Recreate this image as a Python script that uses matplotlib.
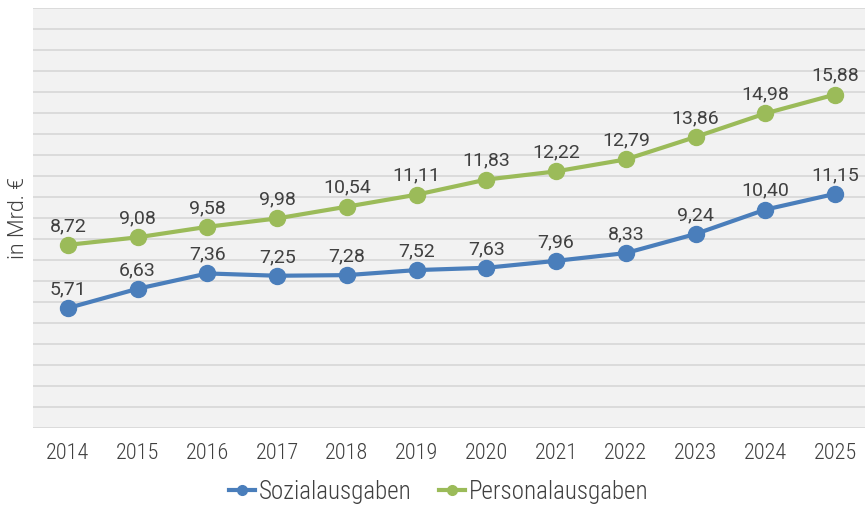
import matplotlib
matplotlib.use("Agg")
import matplotlib.pyplot as plt
from matplotlib import font_manager as fm
from matplotlib.lines import Line2D

years = ["2014", "2015", "2016", "2017", "2018", "2019", "2020", "2021", "2022", "2023", "2024", "2025"]
sozial = [5.71, 6.63, 7.36, 7.25, 7.28, 7.52, 7.63, 7.96, 8.33, 9.24, 10.40, 11.15]
personal = [8.72, 9.08, 9.58, 9.98, 10.54, 11.11, 11.83, 12.22, 12.79, 13.86, 14.98, 15.88]
series_names = ["Sozialausgaben", "Personalausgaben"]
y_label = "in Mrd. €"

fonts = fm.fontManager.ttflist

def stretch_val(f):
    s = f.stretch
    if isinstance(s, str):
        return {"ultra-condensed": 100, "extra-condensed": 200, "condensed": 300,
                "semi-condensed": 400, "normal": 500}.get(s, 500)
    return s

def weight_val(f):
    w = f.weight
    if isinstance(w, str):
        return {"light": 300, "normal": 400, "regular": 400, "book": 400}.get(w, 400)
    return w

def pick(cands, want_weight):
    for name, cond in cands:
        pool = [f for f in fonts if f.name == name and f.style == "normal"
                and ((stretch_val(f) < 500) if cond else (stretch_val(f) == 500))]
        if pool:
            pool.sort(key=lambda f: abs(weight_val(f) - want_weight))
            return pool[0].fname
    return None

cond_path = pick([("Roboto Condensed", False), ("Roboto Condensed", True), ("Roboto", True),
                  ("Open Sans Condensed", True), ("Open Sans", True),
                  ("IBM Plex Sans Condensed", True), ("Liberation Sans Narrow", False)], 300)
main_path = pick([("Roboto", False), ("Open Sans", False), ("DejaVu Sans", False)], 400)
light_path = pick([("Roboto", False), ("Open Sans", False), ("DejaVu Sans", False)], 300)

def fp(path, size):
    if path:
        return fm.FontProperties(fname=path, size=size)
    return fm.FontProperties(family="DejaVu Sans", size=size)

blue = "#4a7ebb"
green = "#9bbb59"
txt = "#404040"

fig = plt.figure(figsize=(8.65, 5.08), dpi=100)
fig.patch.set_facecolor("white")
ax = fig.add_axes([33/865, 1-428/508, 837/865, 420/508])
ax.set_facecolor("#f2f2f2")

x = list(range(len(years)))
ax.set_xlim(-0.5, len(years)-0.5)
ax.set_ylim(0, 20)
ax.set_yticks(range(0, 21))
ax.yaxis.grid(True, color="#d9d9d9", linewidth=1.3)
ax.set_axisbelow(True)
for s in ax.spines.values():
    s.set_visible(False)
ax.tick_params(axis="y", left=False, labelleft=False)
ax.tick_params(axis="x", bottom=False, pad=7.5, labelcolor=txt)
ax.set_xticks(x)
ax.set_xticklabels(years)
for lbl in ax.get_xticklabels():
    lbl.set_fontproperties(fp(cond_path, 16))

for vals, col in [(sozial, blue), (personal, green)]:
    ax.plot(x, vals, color=col, linewidth=3, marker="o", markersize=11.5, zorder=3)
    for xi, v in zip(x, vals):
        ax.annotate(f"{v:.2f}".replace(".", ","), (xi, v), xytext=(0, 10),
                    textcoords="offset points", ha="center", va="baseline",
                    color=txt, fontproperties=fp(main_path, 14))

ax.set_ylabel(y_label, color=txt, fontproperties=fp(light_path, 15.5), labelpad=3)

handles = [Line2D([0], [0], color=blue, lw=3, marker="o", markersize=7),
           Line2D([0], [0], color=green, lw=3, marker="o", markersize=7)]
leg = fig.legend(handles, series_names, loc="center", bbox_to_anchor=(0.507, 1-492/508),
                 ncol=2, frameon=False, handlelength=1.05, handletextpad=0.15,
                 columnspacing=1.1, borderaxespad=0, prop=fp(cond_path, 18))
for t in leg.get_texts():
    t.set_color(txt)

fig.savefig("out.png", dpi=100, facecolor="white")
